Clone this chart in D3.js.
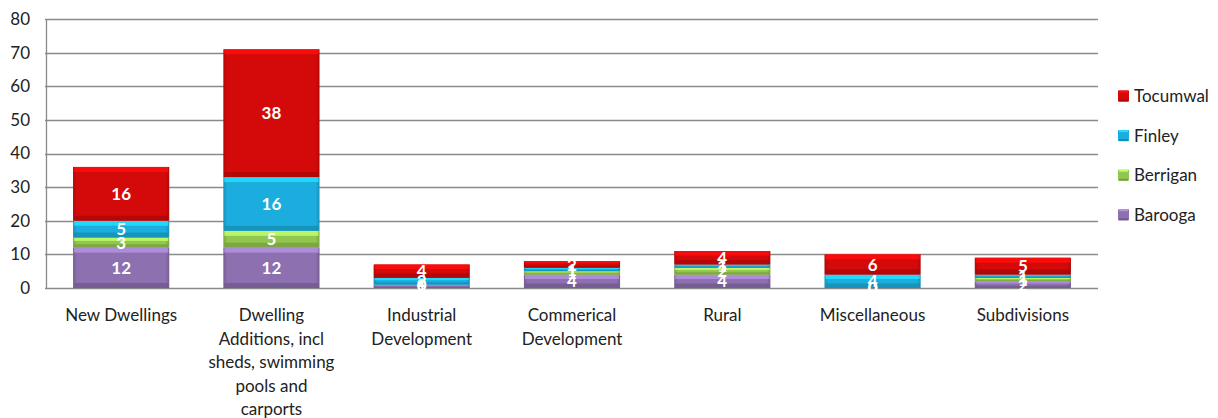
<!DOCTYPE html>
<html><head><meta charset="utf-8">
<script src="https://cdn.jsdelivr.net/npm/d3@7"></script>
<style>body{margin:0;background:#fff;} svg{display:block;font-family:Lato, "Open Sans", sans-serif;}</style>
</head><body>
<svg id="c" width="1218" height="418"></svg>
<script>
const categories = [
  ["New Dwellings"],
  ["Dwelling","Additions, incl","sheds, swimming","pools and","carports"],
  ["Industrial","Development"],
  ["Commerical","Development"],
  ["Rural"],
  ["Miscellaneous"],
  ["Subdivisions"]
];
const seriesNames = ["Barooga","Berrigan","Finley","Tocumwal"];
const barooga  = [12, 12, 1, 4, 4, 0, 2];
const berrigan = [3, 5, 0, 1, 2, 0, 1];
const finley   = [5, 16, 2, 1, 1, 4, 1];
const tocumwal = [16, 38, 4, 2, 4, 6, 5];
const yTicks = [0,10,20,30,40,50,60,70,80];
const colors = {Barooga:"#8C70AF", Berrigan:"#93C650", Finley:"#1BADDE", Tocumwal:"#D40A0A"};

(function(){
const svg = d3.select("#c");
const pLeft = 46, pRight = 1098, pTop = 19, pBottom = 288;
const keys = categories.map((c,i)=>i);
const x = d3.scaleBand().domain(keys).range([pLeft,pRight]).paddingInner(0.36).paddingOuter(0.18);
const y = d3.scaleLinear().domain([0,80]).range([pBottom,pTop]);

const defs = svg.append("defs");
seriesNames.forEach(n=>{
  const c = d3.color(colors[n]);
  const g = defs.append("linearGradient").attr("id","g"+n).attr("x1",0).attr("x2",1).attr("y1",0).attr("y2",0);
  g.append("stop").attr("offset","0%").attr("stop-color",c.darker(0.5));
  g.append("stop").attr("offset","4%").attr("stop-color",c);
  g.append("stop").attr("offset","96%").attr("stop-color",c);
  g.append("stop").attr("offset","100%").attr("stop-color",c.darker(0.5));
});

svg.append("g").selectAll("line").data(yTicks).join("line")
  .attr("x1",pLeft-1).attr("x2",pRight).attr("y1",d=>Math.round(y(d))+0.5).attr("y2",d=>Math.round(y(d))+0.5)
  .attr("stroke","#8a8a8a").attr("stroke-width",1.3);
svg.append("line").attr("x1",pLeft+0.5).attr("x2",pLeft+0.5).attr("y1",y(80)).attr("y2",y(0)+1)
  .attr("stroke","#8a8a8a").attr("stroke-width",1.3);

const yAxis = d3.axisLeft(y).tickValues(yTicks).tickSize(0).tickPadding(16);
const ya = svg.append("g").attr("transform",`translate(${pLeft},0)`).call(yAxis);
ya.select(".domain").remove();
ya.selectAll("text").attr("font-size",17).attr("fill","#222").attr("font-family","Lato, 'Open Sans', sans-serif");

const table = keys.map(i=>({Barooga:barooga[i],Berrigan:berrigan[i],Finley:finley[i],Tocumwal:tocumwal[i],i}));
const stack = d3.stack().keys(seriesNames)(table);

stack.forEach(layer=>{
  const n = layer.key;
  const c = d3.color(colors[n]);
  const g = svg.append("g");
  layer.forEach((d,idx)=>{
    const y0 = y(d[0]), y1 = y(d[1]);
    const h = y0 - y1;
    if (h <= 0) return;
    const bx = x(idx), bw = x.bandwidth();
    g.append("rect").attr("x",bx).attr("y",y1).attr("width",bw).attr("height",h).attr("fill",`url(#g${n})`);
    const bev = Math.min(5, h/3);
    g.append("rect").attr("x",bx+1).attr("y",y1).attr("width",bw-2).attr("height",bev)
      .attr("fill",c.brighter(0.7)).attr("opacity",0.85);
    g.append("rect").attr("x",bx+1).attr("y",y0-bev).attr("width",bw-2).attr("height",bev)
      .attr("fill",c.darker(0.6)).attr("opacity",0.8);
  });
});

stack.forEach(layer=>{
  svg.append("g").selectAll("text").data(layer).join("text")
    .attr("x",(d,idx)=>x(idx)+x.bandwidth()/2)
    .attr("y",d=>(y(d[0])+y(d[1]))/2)
    .attr("dy","0.36em").attr("text-anchor","middle")
    .attr("font-size",17).attr("font-weight","bold").attr("fill","#fff")
    .text(d=>d[1]-d[0]);
});

const xl = svg.append("g");
categories.forEach((lines,i)=>{
  const cx = x(i)+x.bandwidth()/2;
  const t = xl.append("text").attr("text-anchor","middle").attr("font-size",17).attr("fill","#222").attr("x",cx);
  lines.forEach((l,j)=>{
    t.append("tspan").attr("x",cx).attr("y",321+j*23.6).text(l);
  });
});

const legendOrder = ["Tocumwal","Finley","Berrigan","Barooga"];
const lg = svg.append("g").attr("transform","translate(1118,0)");
legendOrder.forEach((n,k)=>{
  const cy = 96 + k*39.6;
  const c = d3.color(colors[n]);
  lg.append("rect").attr("x",0).attr("y",cy-5.5).attr("width",11).attr("height",11).attr("fill",c);
  lg.append("rect").attr("x",1).attr("y",cy-5.5).attr("width",9).attr("height",2).attr("fill",c.brighter(0.7));
  lg.append("rect").attr("x",1).attr("y",cy+3.5).attr("width",9).attr("height",2).attr("fill",c.darker(0.6));
  lg.append("text").attr("x",16).attr("y",cy).attr("dy","0.36em").attr("font-size",17).attr("fill","#222").text(n);
});
})();
</script>
</body></html>
